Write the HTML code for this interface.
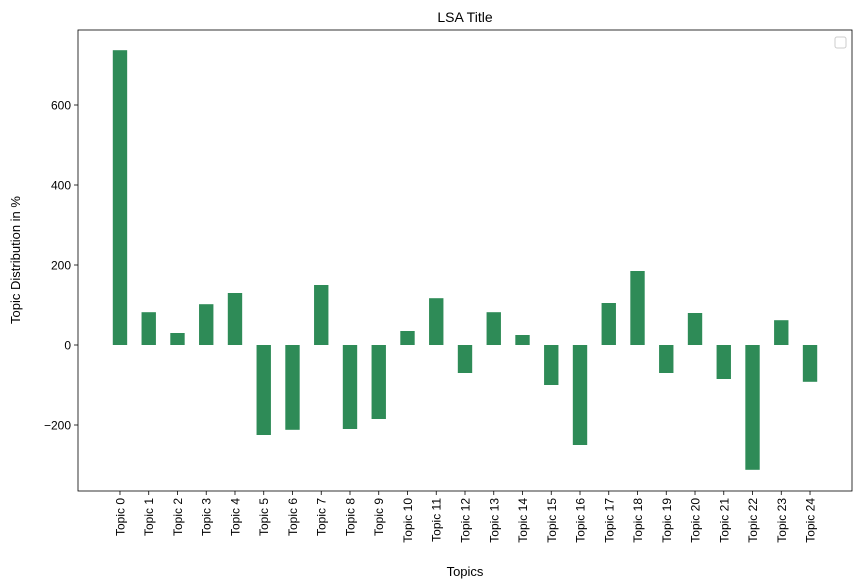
<!DOCTYPE html>
<html><head><meta charset="utf-8"><style>
body{margin:0;background:#fff;}
svg{display:block;font-family:"Liberation Sans","DejaVu Sans",sans-serif;}
</style></head><body>
<svg id="chart" width="862" height="588">
<rect x="0" y="0" width="862" height="588" fill="#fff"/>
<text x="465" y="22" font-size="14" text-anchor="middle">LSA Title</text>
<g id="bars"></g>
<g id="xticks"></g>
<g id="yticks"></g>
<rect x="78" y="30" width="774" height="461" fill="none" stroke="#000" stroke-width="0.8"/>
<rect x="835" y="37" width="11" height="11" rx="2" fill="#fff" stroke="#ccc"/>
<text x="465" y="576" font-size="13" text-anchor="middle">Topics</text>
<text transform="translate(20,260) rotate(-90)" font-size="13" text-anchor="middle">Topic Distribution in %</text>
</svg>
<script>
const categories=["Topic 0","Topic 1","Topic 2","Topic 3","Topic 4","Topic 5","Topic 6","Topic 7","Topic 8","Topic 9","Topic 10","Topic 11","Topic 12","Topic 13","Topic 14","Topic 15","Topic 16","Topic 17","Topic 18","Topic 19","Topic 20","Topic 21","Topic 22","Topic 23","Topic 24"];
const values=[737,82,30,102,130,-225,-212,150,-210,-185,35,117,-70,82,25,-100,-250,105,185,-70,80,-85,-312,62,-92];
const yTicks=[-200,0,200,400,600];
const NS="http://www.w3.org/2000/svg";
const L=78,R=852,T=30,B=491;
const xMin=-1.46,xMax=25.46,yMin=-365,yMax=787.5;
function xs(i){return L+(i-xMin)/(xMax-xMin)*(R-L);}
function ys(v){return B-(v-yMin)/(yMax-yMin)*(B-T);}
const bw=(xs(1)-xs(0))*0.5;
function mk(tag,attrs,parent){const e=document.createElementNS(NS,tag);for(const k in attrs)e.setAttribute(k,attrs[k]);parent.appendChild(e);return e;}
const gb=document.getElementById('bars'),gx=document.getElementById('xticks'),gy=document.getElementById('yticks');
categories.forEach((c,i)=>{
 const v=values[i];const y0=ys(0),y1=ys(v);
 const r=mk('rect',{x:xs(i)-bw/2,y:Math.min(y0,y1),width:bw,height:Math.abs(y1-y0),fill:'#2e8b57'},gb);
 
 
 const x=xs(i);
 const tk=mk('line',{x1:x,x2:x,y1:B,y2:B+4,stroke:'#000','stroke-width':0.8},gx);
 
 
 const t=mk('text',{transform:`translate(${x+4.5},${B+7}) rotate(-90)`,'font-size':12,'text-anchor':'end'},gx);
 t.textContent=c;
 
 
});
yTicks.forEach(v=>{
 const y=ys(v);
 const tk=mk('line',{x1:L-4,x2:L,y1:y,y2:y,stroke:'#000','stroke-width':0.8},gy);
 
 
 const t=mk('text',{x:L-7,y:y+4.5,'font-size':12,'text-anchor':'end'},gy);
 t.textContent=v<0?'\u2212'+Math.abs(v):String(v);
 
 
});
</script>
</body></html>
